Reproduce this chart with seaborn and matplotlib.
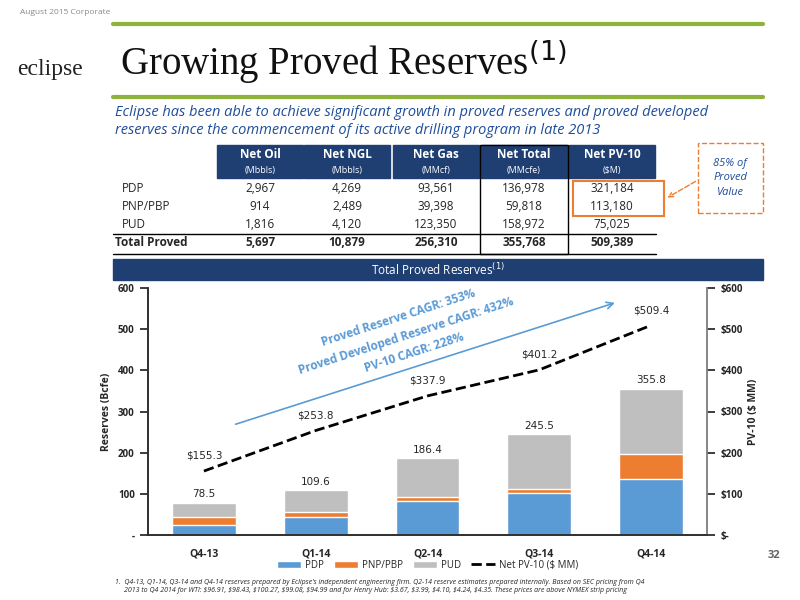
import matplotlib
matplotlib.use("Agg")
import matplotlib.pyplot as plt
import seaborn as sns
import numpy as np
import pandas as pd
from matplotlib.patches import Rectangle, FancyArrowPatch

sns.set_theme(style="white")
plt.rcParams['font.family'] = ['Open Sans', 'DejaVu Sans']

quarters = ["Q4-13", "Q1-14", "Q2-14", "Q3-14", "Q4-14"]
pdp = [24.0, 43.5, 81.5, 101.6, 137.0]
pnp = [19.5, 13.0, 11.2, 10.4, 59.8]
pud = [35.0, 53.1, 93.7, 133.5, 159.0]
totals = [78.5, 109.6, 186.4, 245.5, 355.8]
pv10 = [155.3, 253.8, 337.9, 401.2, 509.4]

tbl_cols = [("Net Oil", "(Mbbls)"), ("Net NGL", "(Mbbls)"), ("Net Gas", "(MMcf)"),
            ("Net Total", "(MMcfe)"), ("Net PV-10", "($M)")]
tbl_rows = ["PDP", "PNP/PBP", "PUD", "Total Proved"]
tbl_vals = [["2,967", "4,269", "93,561", "136,978", "321,184"],
            ["914", "2,489", "39,398", "59,818", "113,180"],
            ["1,816", "4,120", "123,350", "158,972", "75,025"],
            ["5,697", "10,879", "256,310", "355,768", "509,389"]]

W, H = 800, 600
fig = plt.figure(figsize=(8, 6), dpi=100)
navy = "#1F3F73"
green = "#8DB33A"
blue = "#5B9BD5"
orange = "#ED7D31"
grey = "#BFBFBF"

def fx(x): return x / W
def fy(y): return 1 - y / H

def rect(x0, y0, x1, y1, **kw):
    fig.patches.append(Rectangle((fx(x0), fy(y1)), fx(x1) - fx(x0), fy(y0) - fy(y1),
                                 transform=fig.transFigure, **kw))

def hline(x0, x1, y, **kw):
    fig.add_artist(plt.Line2D([fx(x0), fx(x1)], [fy(y), fy(y)], transform=fig.transFigure, **kw))

# header
fig.text(fx(20), fy(12), "August 2015 Corporate", fontsize=6, color="#888888", va="center")
fig.text(fx(17), fy(70), "eclipse", fontsize=17, family="Liberation Serif", va="center", color="#222222")
hline(113, 763, 24, color=green, lw=3)
hline(113, 763, 97, color=green, lw=3)
fig.text(fx(120), fy(62), r"Growing Proved Reserves$^{(1)}$", fontsize=28,
         family="Liberation Serif", va="center", color="#111111")
fig.text(fx(115), fy(112), "Eclipse has been able to achieve significant growth in proved reserves and proved developed",
         fontsize=10.5, style="italic", color="#1F4E9A", va="center")
fig.text(fx(115), fy(131), "reserves since the commencement of its active drilling program in late 2013",
         fontsize=10.5, style="italic", color="#1F4E9A", va="center")

# table
xc = [260, 347, 436, 524, 612]
for i, (a, b) in enumerate(tbl_cols):
    rect(xc[i] - 43, 145, xc[i] + 43, 178, color=navy)
    fig.text(fx(xc[i]), fy(155), a, ha="center", va="center", color="white", fontsize=8.5, weight="bold")
    fig.text(fx(xc[i]), fy(170), b, ha="center", va="center", color="white", fontsize=6.5)
row_y = [189, 207, 225, 243]
for r, name in enumerate(tbl_rows):
    bold = "bold" if r == 3 else "normal"
    fig.text(fx(122 if r < 3 else 115), fy(row_y[r]), name, va="center", fontsize=8.5, weight=bold)
    for c in range(5):
        fig.text(fx(xc[c]), fy(row_y[r]), tbl_vals[r][c], ha="center", va="center", fontsize=8.5, weight=bold)
hline(113, 656, 234, color="black", lw=1)
hline(113, 656, 254, color="black", lw=1)
rect(480, 145, 568, 254, fill=False, ec="black", lw=1)
rect(573, 181, 664, 216, fill=False, ec=orange, lw=1.5)
rect(698, 143, 763, 213, fill=False, ec=orange, lw=1, ls="--")
fig.text(fx(730), fy(178), "85% of\nProved\nValue", ha="center", va="center", fontsize=8,
         style="italic", color="#1F4E9A", linespacing=1.4)
fig.add_artist(FancyArrowPatch((fx(698), fy(180)), (fx(665), fy(199)), transform=fig.transFigure,
                               arrowstyle="->", ls="--", color=orange, lw=1, mutation_scale=8))

# banner
rect(113, 259, 763, 280, color=navy)
fig.text(fx(438), fy(270), r"Total Proved Reserves$^{(1)}$", ha="center", va="center", color="white", fontsize=8.5)

# chart
ax = fig.add_axes([148 / W, 1 - 535 / H, (707 - 148) / W, (535 - 288) / H])
df = pd.DataFrame({"q": quarters, "PDP": pdp, "PNP": pnp, "PUD": pud})
b1 = np.array(pdp)
b2 = b1 + np.array(pnp)
sns.barplot(data=df, x="q", y=np.array(b2) + np.array(pud), color=grey, ax=ax, width=0.57, saturation=1, label="PUD")
sns.barplot(data=df, x="q", y=b2, color=orange, ax=ax, width=0.57, saturation=1, label="PNP/PBP")
sns.barplot(data=df, x="q", y=b1, color=blue, ax=ax, width=0.57, saturation=1, label="PDP")
for i, t in enumerate(totals):
    ax.text(i, t + 8, f"{t}", ha="center", va="bottom", fontsize=7.5, family="DejaVu Sans")
ax.set_ylim(0, 600)
ax.set_xlim(-0.5, 4.5)
ax.set_yticks([0, 100, 200, 300, 400, 500, 600])
ax.set_yticklabels(["-", "100", "200", "300", "400", "500", "600"], fontsize=7, weight="bold")
ax.set_xlabel("")
ax.set_ylabel("Reserves (Bcfe)", fontsize=7.5, weight="bold")
ax.tick_params(axis="x", labelsize=7.5)
for l in ax.get_xticklabels():
    l.set_weight("bold")
ax.spines["top"].set_visible(False)
for s in ["left", "right", "bottom"]:
    ax.spines[s].set_color("#888888")

ax2 = ax.twinx()
sns.lineplot(x=np.arange(5), y=pv10, ax=ax2, color="black", ls="--", lw=2, label="Net PV-10 ($ MM)", legend=False)
for i, v in enumerate(pv10):
    ax2.text(i, v + 25, f"${v}", ha="center", va="bottom", fontsize=7.5, family="DejaVu Sans")
ax2.set_ylim(0, 600)
ax2.set_yticks([0, 100, 200, 300, 400, 500, 600])
ax2.set_yticklabels(["$-", "$100", "$200", "$300", "$400", "$500", "$600"], fontsize=7, weight="bold")
ax2.set_ylabel("PV-10 ($ MM)", fontsize=7.5, weight="bold")
ax2.spines["top"].set_visible(False)
ax2.spines["right"].set_color("#888888")

ax.annotate("", xy=(3.70, 566), xytext=(0.26, 267),
            arrowprops=dict(arrowstyle="->", color=blue, lw=1.2))
for txt, x, y in [("Proved Reserve CAGR: 353%", 398, 318),
                  ("Proved Developed Reserve CAGR: 432%", 406, 336),
                  ("PV-10 CAGR: 228%", 414, 353)]:
    fig.text(fx(x), fy(y), txt, rotation=18, ha="center", va="center", fontsize=8.5, weight="bold",
             color=blue, rotation_mode="anchor")

h1, l1 = ax.get_legend_handles_labels()
h2, l2 = ax2.get_legend_handles_labels()
order = [2, 1, 0]
ax.legend([h1[i] for i in order] + h2, [l1[i] for i in order] + l2, loc="upper center",
          bbox_to_anchor=(0.5, -0.065), ncol=4, frameon=False, fontsize=7, handlelength=2.5,
          columnspacing=1.0, handletextpad=0.4)

fig.text(fx(115), fy(582), "1.  Q4-13, Q1-14, Q3-14 and Q4-14 reserves prepared by Eclipse's independent engineering firm. Q2-14 reserve estimates prepared internally. Based on SEC pricing from Q4",
         fontsize=5, style="italic", va="center")
fig.text(fx(124), fy(591), r"2013 to Q4 2014 for WTI: \$96.91, \$98.43, \$100.27, \$99.08, \$94.99 and for Henry Hub: \$3.67, \$3.99, \$4.10, \$4.24, \$4.35. These prices are above NYMEX strip pricing",
         fontsize=5, style="italic", va="center")
fig.text(fx(780), fy(556), "32", fontsize=8, color="#666666", ha="right", va="center", weight="bold")

fig.savefig("out.png", dpi=100)
